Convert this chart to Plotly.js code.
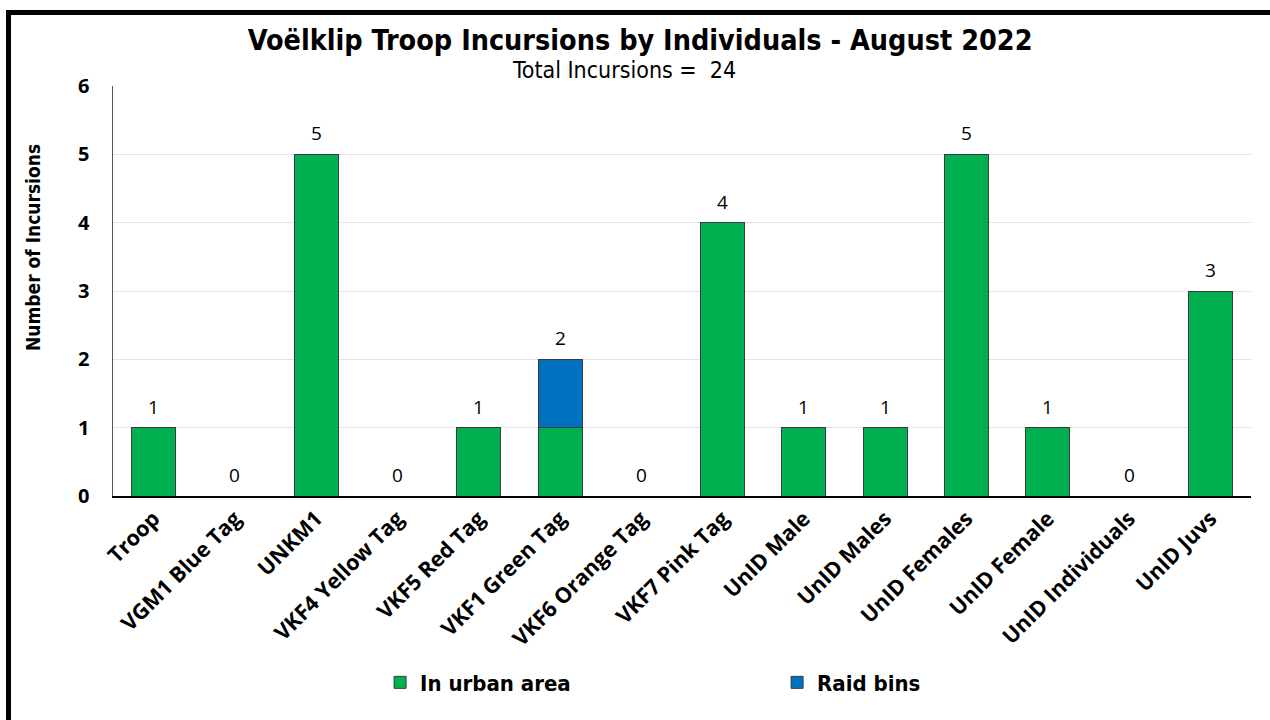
<!DOCTYPE html>
<html>
<head>
<meta charset="utf-8">
<script src="https://cdn.plot.ly/plotly-3.0.1.min.js"></script>
<style>
  html, body { margin: 0; padding: 0; background: #fff; }
  #wrap { position: relative; width: 1270px; height: 720px; overflow: hidden; }
  #chart { position: absolute; left: 0; top: 0; width: 1270px; height: 720px; }
  #frame { position: absolute; left: 6px; top: 10px; width: 1300px; height: 800px;
           border-left: 5px solid #000; border-top: 5px solid #000; pointer-events: none; }
</style>
</head>
<body>
<div id="wrap">
  <div id="chart"></div>
  <div id="frame"></div>
</div>
<script>
const categories = ["Troop", "VGM1 Blue Tag", "UNKM1", "VKF4 Yellow Tag", "VKF5 Red Tag",
  "VKF1 Green Tag", "VKF6 Orange Tag", "VKF7 Pink Tag", "UnID Male", "UnID Males",
  "UnID Females", "UnID Female", "UnID Individuals", "UnID Juvs"];
const urbanArea = [1, 0, 5, 0, 1, 1, 0, 4, 1, 1, 5, 1, 0, 3];
const raidBins  = [0, 0, 0, 0, 0, 1, 0, 0, 0, 0, 0, 0, 0, 0];
const yTicks = [0, 1, 2, 3, 4, 5, 6];
const totalIncursions = 24;

const totals = urbanArea.map((v, i) => v + raidBins[i]);

const narrow = "Liberation Sans Narrow, DejaVu Sans Condensed, Arial Narrow, sans-serif";
const wide = "Open Sans, DejaVu Sans, sans-serif";

const traces = [
  {
    type: "bar", name: "In urban area", x: categories, y: urbanArea,
    marker: { color: "#00B050", line: { color: "#3a3a3a", width: 1 } },
    hoverinfo: "x+y"
  },
  {
    type: "bar", name: "Raid bins", x: categories, y: raidBins,
    marker: { color: "#0070C0", line: { color: "#3a3a3a", width: 1 } },
    hoverinfo: "x+y"
  }
];

const annotations = totals.map((t, i) => ({
  x: categories[i], y: t, xref: "x", yref: "y",
  text: String(t), showarrow: false, yanchor: "bottom", yshift: 6,
  font: { family: wide, size: 19, color: "#000" }
}));
annotations.push({
  text: "Total Incursions =  " + totalIncursions,
  xref: "paper", yref: "paper", x: 0.449, xanchor: "center",
  y: 1.0, yanchor: "bottom", yshift: 1, showarrow: false,
  font: { family: narrow, size: 23, color: "#000" }
});
annotations.push({
  text: "<b>Number of Incursions</b>", textangle: -90,
  xref: "paper", yref: "paper", x: 0, xshift: -80, xanchor: "center",
  y: 0.605, yanchor: "middle", showarrow: false,
  font: { family: narrow, size: 19, color: "#000" }
});

const layout = {
  width: 1270, height: 720,
  barmode: "stack", bargap: 0.46,
  paper_bgcolor: "#fff", plot_bgcolor: "#fff",
  margin: { l: 113, r: 19, t: 86, b: 224 },
  title: {
    text: "<b>Voëlklip Troop Incursions by Individuals - August 2022</b>",
    font: { family: narrow, size: 28.5, color: "#000" },
    x: 0.504, xanchor: "center", y: 0.945, yanchor: "middle"
  },
  annotations: annotations,
  xaxis: {
    type: "category", range: [-0.5, 13.5], tickangle: -45,
    tickfont: { family: wide, size: 21.5, color: "#000", weight: "bold" },
    showline: true, linecolor: "#000", linewidth: 1.5,
    ticks: "", showgrid: false, fixedrange: true
  },
  yaxis: {
    range: [0, 6], tickvals: yTicks, ticktext: yTicks.map(String),
    tickfont: { family: wide, size: 20, color: "#000", weight: "bold" },
    ticks: "", ticklen: 0, showline: true, linecolor: "#595959", linewidth: 1.5,
    gridcolor: "#e3e3e3", gridwidth: 1, zeroline: false, fixedrange: true,
    ticklabelstandoff: 18
  },
  legend: {
    orientation: "h", x: 0.2347, xanchor: "left", y: -0.455, yanchor: "middle",
    font: { family: narrow, size: 22, color: "#000", weight: "bold" },
    entrywidth: 352, itemwidth: 30, traceorder: "normal"
  },
  showlegend: true
};

Plotly.newPlot("chart", traces, layout, { displayModeBar: false, staticPlot: true });
</script>
</body>
</html>
